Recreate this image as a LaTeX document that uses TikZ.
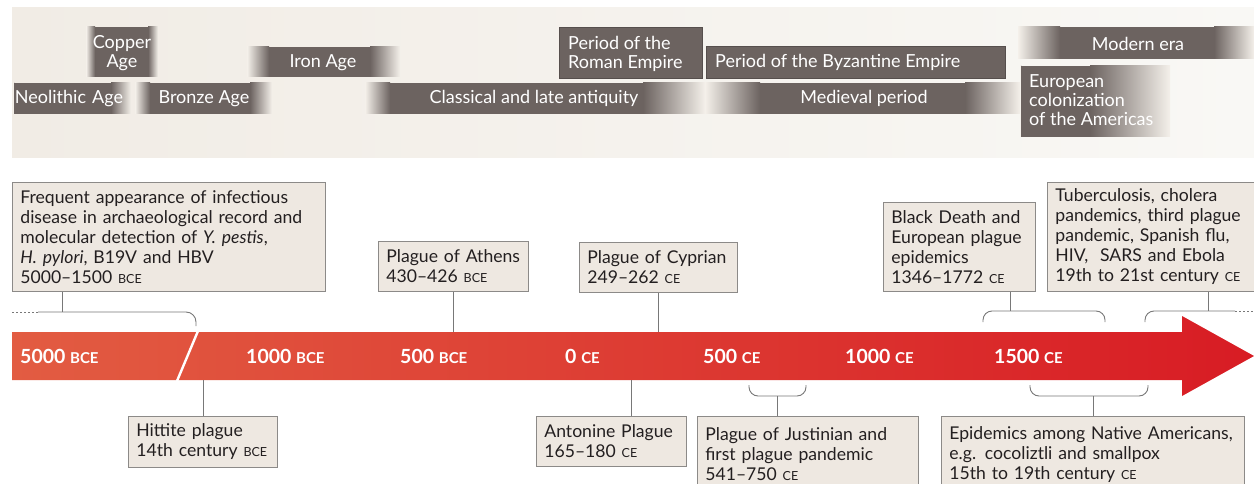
\documentclass[tikz,border=0pt]{standalone}
\usepackage{fontspec}
\setmainfont{Lato}
\definecolor{band}{RGB}{108,99,96}
\definecolor{bandbg}{RGB}{244,240,234}
\definecolor{panelL}{RGB}{241,236,229}
\definecolor{panelR}{RGB}{249,248,245}
\definecolor{boxfill}{RGB}{238,232,225}
\definecolor{boxline}{RGB}{140,138,136}
\definecolor{conn}{RGB}{120,120,120}
\definecolor{redL}{RGB}{226,92,66}
\definecolor{redR}{RGB}{216,28,36}
\definecolor{txt}{RGB}{35,31,32}
\newcommand\bsc[1]{{\fontsize{12.5}{12.5}\selectfont #1}}
\newcommand\tsc[1]{{\fontsize{15}{15}\selectfont\bfseries #1}}
\newcommand\bandpiece[6]{%
  \fill[band] ({#1+#5},#3) rectangle ({#2-#6},#4);
  \shade[left color=bandbg, right color=band] (#1,#3) rectangle ({#1+#5},#4);
  \shade[left color=band, right color=bandbg] ({#2-#6},#3) rectangle (#2,#4);}
\tikzset{
  infobox/.style={draw=boxline, line width=0.8, fill=boxfill, anchor=north west,
    align=left, inner xsep=8, inner ysep=3, text=txt,
    font=\fontsize{17.6}{20}\selectfont},
  bandlabel/.style={text=white, font=\fontsize{18}{19}\selectfont, align=left, inner sep=0},
  ticklabel/.style={text=white, font=\fontsize{19.5}{20}\selectfont\bfseries, anchor=west, inner sep=0},
  link/.style={draw=conn, line width=0.9},
  dotlink/.style={draw=conn, line width=0.9, dash pattern=on 2pt off 2pt},
}
\begin{document}
\begin{tikzpicture}[x=1pt,y=-1pt]
\clip (0,0) rectangle (1254,484);
\fill[white] (0,0) rectangle (1254,484);
% top panel
\shade[left color=panelL, right color=panelR] (12,8) rectangle (1254,158);
% bands
\bandpiece{13}{131}{83}{114}{1}{20}
\bandpiece{86}{158}{27}{77}{9}{10}
\bandpiece{135}{272}{83}{114}{15}{22}
\bandpiece{247}{400}{47}{77}{22}{30}
\bandpiece{365}{705}{83}{114}{25}{62}
\bandpiece{705}{1020}{83}{114}{55}{55}
\bandpiece{1018}{1254}{27}{59}{42}{40}
\bandpiece{1020}{1170}{66}{137}{1}{80}
\fill[band, draw=band!80!black, line width=0.6] (559,27) rectangle (702,78);
\fill[band, draw=band!80!black, line width=0.6] (706,46) rectangle (1005,78);
\node[bandlabel, anchor=center, text width=0] (neo) at (69,99) {\hbox to 0pt{\hss Neolithic Age\hss}};
\node[bandlabel, anchor=center, align=center] (copper) at (122,53) {Copper\\Age};
\node[bandlabel, anchor=center] (bronze) at (204,99) {Bronze Age};
\node[bandlabel, anchor=center] (iron) at (323,63) {Iron Age};
\node[bandlabel, anchor=center] (classic) at (534,98) {Classical and late antiquity};
\node[bandlabel, anchor=north west] (roman) at (568,36) {Period of the\\Roman Empire};
\node[bandlabel, anchor=west] (byz) at (715,62) {Period of the Byzantine Empire};
\node[bandlabel, anchor=center] (medieval) at (864,98) {Medieval period};
\node[bandlabel, anchor=center] (modern) at (1138,44) {Modern era};
\node[bandlabel, anchor=north west] (euro) at (1029,74) {European\\colonization\\of the Americas};
% timeline arrow
\shade[left color=redL, right color=redR] (12,332) -- (1182,332) -- (1182,316) -- (1254,356) -- (1182,396) -- (1182,380) -- (12,380) -- cycle;
\draw[white, line width=2.4] (177,381) -- (198,331);
\node[ticklabel] (t1) at (20,356) {5000 \tsc{BCE}};
\node[ticklabel] (t2) at (246,356) {1000 \tsc{BCE}};
\node[ticklabel] (t3) at (400,356) {500 \tsc{BCE}};
\node[ticklabel] (t4) at (565,356) {0 \tsc{CE}};
\node[ticklabel] (t5) at (703,356) {500 \tsc{CE}};
\node[ticklabel] (t6) at (845,356) {1000 \tsc{CE}};
\node[ticklabel] (t7) at (994,356) {1500 \tsc{CE}};
% info boxes above
\node[infobox, text width=297, minimum height=109] (freq) at (12,182)
 {Frequent appearance of infectious\\disease in archaeological record and\\molecular detection of \textit{Y.~pestis},\\\textit{H.~pylori}, B19V and HBV\\5000--1500 \bsc{BCE}};
\node[infobox, text width=134, minimum height=50] (athens) at (378,241)
 {Plague of Athens\\430--426 \bsc{BCE}};
\node[infobox, text width=142, minimum height=50] (cyprian) at (579,242)
 {Plague of Cyprian\\249--262 \bsc{CE}};
\node[infobox, text width=136, minimum height=89] (black) at (883,202)
 {Black Death and\\European plague\\epidemics\\1346--1772 \bsc{CE}};
\node[infobox, text width=200, minimum height=109] (tb) at (1047,182)
 {Tuberculosis, cholera\\pandemics, third plague\\pandemic, Spanish flu,\\HIV,\ \ SARS\ and Ebola\\19th to 21st century \bsc{CE}};
% info boxes below
\node[infobox, text width=133, minimum height=51] (hittite) at (128,416)
 {Hittite plague\\14th century \bsc{BCE}};
\node[infobox, text width=134, minimum height=50] (antonine) at (536,416)
 {Antonine Plague\\165--180 \bsc{CE}};
\node[infobox, text width=205, minimum height=76] (justin) at (697,416)
 {Plague of Justinian and\\first plague pandemic\\541--750 \bsc{CE}};
\node[infobox, text width=287, minimum height=76] (native) at (941,416)
 {Epidemics among Native Americans,\\e.g. cocoliztli and smallpox\\15th to 19th century \bsc{CE}};
% connectors and brackets
\coordinate (bf) at (62,312);
\draw[link] (freq.south -| bf) -- (bf);
\draw[dotlink] (12,312) -- (38,312);
\draw[link, rounded corners=10] (38,312) -- (196,312) -- (196,326);
\coordinate (ba) at (453,332);
\draw[link] (athens.south -| ba) -- (ba);
\coordinate (bc) at (658,332);
\draw[link] (cyprian.south -| bc) -- (bc);
\coordinate (bb) at (1010,311);
\draw[link] (black.south -| bb) -- (bb);
\draw[link, rounded corners=9] (983,322) -- (983,311) -- (1105,311) -- (1105,322);
\coordinate (bt) at (1208,311);
\draw[link] (tb.south -| bt) -- (bt);
\draw[link, rounded corners=9] (1145,322) -- (1145,311) -- (1235,311);
\draw[dotlink] (1235,311) -- (1254,311);
\coordinate (bh) at (203,380);
\draw[link] (bh) -- (hittite.north -| bh);
\coordinate (bn) at (631,380);
\draw[link] (bn) -- (antonine.north -| bn);
\coordinate (bj) at (777,396);
\draw[link, rounded corners=9] (749,385) -- (749,396) -- (806,396) -- (806,385);
\draw[link] (bj) -- (justin.north -| bj);
\coordinate (be) at (1093,396);
\draw[link, rounded corners=9] (1030,385) -- (1030,396) -- (1148,396) -- (1148,385);
\draw[link] (be) -- (native.north -| be);
\end{tikzpicture}
\end{document}
